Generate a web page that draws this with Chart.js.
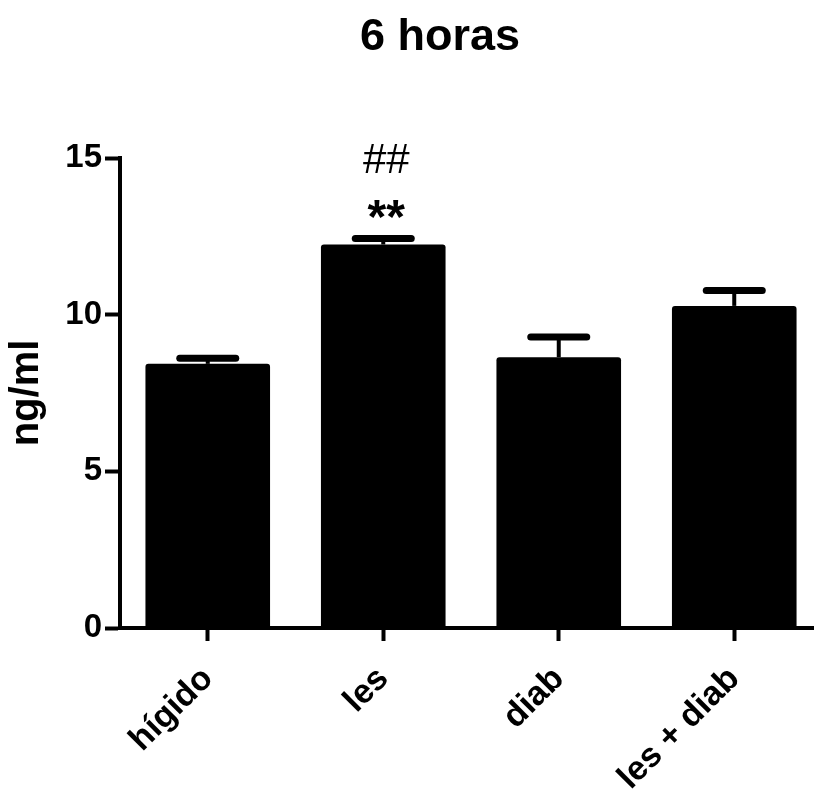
<!DOCTYPE html>
<html>
<head>
<meta charset="utf-8">
<script src="https://cdn.jsdelivr.net/npm/chart.js@4.4.1/dist/chart.umd.min.js"></script>
<style>
  html, body { margin: 0; padding: 0; background: #fff; overflow: hidden; }
  #wrap { width: 830px; height: 789px; }
</style>
</head>
<body>
<div id="wrap"><canvas id="chart" width="830" height="789"></canvas></div>
<script>
// ── Data ───────────────────────────────────────────────────────────────────
const categories = ["hígido", "les", "diab", "les + diab"];
const means      = [8.43, 12.24, 8.64, 10.28];
const errUp      = [0.18, 0.19, 0.65, 0.49];
const yTicks     = [0, 5, 10, 15];
const titleText  = "6 horas";
const yLabel     = "ng/ml";
// significance marks above a bar (index -> lines, bottom first)
const marks      = { 1: ["**", "##"] };

const FONT = "'Liberation Sans', Arial, sans-serif";

// ── Error bars + annotations + title ───────────────────────────────────────
const extrasPlugin = {
  id: "extras",
  afterDatasetsDraw(chart) {
    const { ctx } = chart;
    const y = chart.scales.y;
    const meta = chart.getDatasetMeta(0);
    ctx.save();
    ctx.strokeStyle = "#000";
    meta.data.forEach((bar, i) => {
      const top = y.getPixelForValue(means[i] + errUp[i]);
      ctx.lineCap = "butt";
      ctx.lineWidth = 4;
      ctx.beginPath();
      ctx.moveTo(bar.x, bar.y);
      ctx.lineTo(bar.x, top);
      ctx.stroke();
      ctx.lineCap = "round";
      ctx.lineWidth = 7;
      ctx.beginPath();
      ctx.moveTo(bar.x - 28, top);
      ctx.lineTo(bar.x + 28, top);
      ctx.stroke();
    });

    ctx.fillStyle = "#000";
    ctx.textAlign = "center";
    ctx.textBaseline = "alphabetic";
    Object.keys(marks).forEach((k) => {
      const bar = meta.data[k];
      const top = y.getPixelForValue(means[k] + errUp[k]);
      const [stars, hashes] = marks[k];
      ctx.font = `bold 48px ${FONT}`;
      ctx.fillText(stars, bar.x + 3, top - 6);
      ctx.font = `42px ${FONT}`;
      ctx.fillText(hashes, bar.x + 3, top - 66);
    });

    ctx.font = `bold 45px ${FONT}`;
    ctx.textBaseline = "middle";
    ctx.fillText(titleText, 440, 38);
    ctx.restore();
  },
};

// ── Chart ──────────────────────────────────────────────────────────────────
new Chart(document.getElementById("chart"), {
  type: "bar",
  data: {
    labels: categories,
    datasets: [{
      data: means,
      backgroundColor: "#000",
      borderRadius: 3,
      barPercentage: 0.71,
      categoryPercentage: 1,
    }],
  },
  options: {
    responsive: false,
    animation: false,
    layout: { padding: { top: 158, right: 8, left: 0, bottom: 0 } },
    plugins: { legend: { display: false }, tooltip: { enabled: false }, title: { display: false } },
    scales: {
      x: {
        offset: true,
        grid: { offset: false, drawOnChartArea: false, drawTicks: true, tickLength: 13, tickWidth: 4, tickColor: "#000" },
        border: { display: true, width: 4, color: "#000" },
        ticks: {
          color: "#000",
          font: { family: FONT, size: 34, weight: "bold" },
          minRotation: 45,
          maxRotation: 45,
          padding: 18,
        },
        afterFit: (s) => { s.height = 161; },
      },
      y: {
        min: 0,
        max: 15,
        afterBuildTicks: (s) => { s.ticks = yTicks.map((v) => ({ value: v })); },
        grid: { drawOnChartArea: false, drawTicks: true, tickLength: 15, tickWidth: 4, tickColor: "#000" },
        border: { display: true, width: 4, color: "#000" },
        ticks: { color: "#000", font: { family: FONT, size: 33, weight: "bold" }, padding: 3 },
        title: {
          display: true,
          text: yLabel,
          color: "#000",
          font: { family: FONT, size: 40, weight: "bold", lineHeight: 1 },
          padding: { top: 7, bottom: 0 },
        },
        afterFit: (s) => { s.width = 120; },
      },
    },
  },
  plugins: [extrasPlugin],
});
</script>
</body>
</html>
